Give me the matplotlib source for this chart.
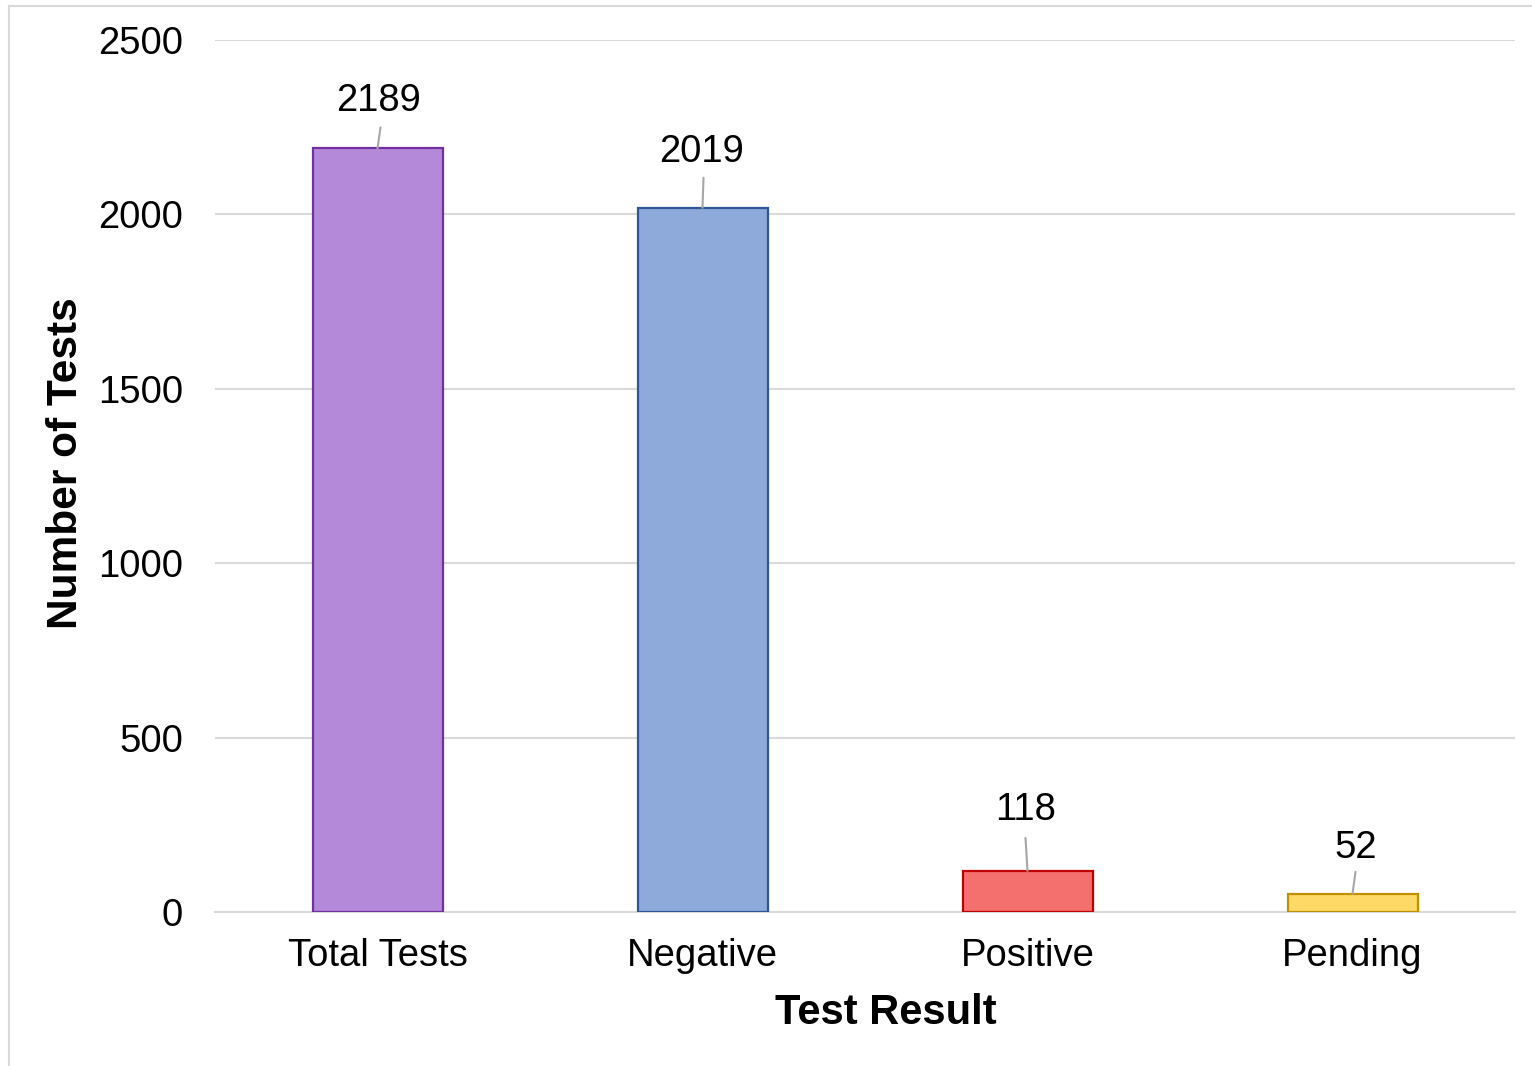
import matplotlib.pyplot as plt
from matplotlib.lines import Line2D

categories = ['Total Tests', 'Negative', 'Positive', 'Pending']
counts = [2189, 2019, 118, 52]
fill_colors = ['#b589d9', '#8eaadb', '#f4706f', '#ffd966']
edge_colors = ['#7030a0', '#2f5597', '#c00000', '#bf9000']

# label placement (pixels from bar top): text centre, leader line top
text_offsets = [(1, 47), (-1, 56), (-2, 61), (3, 46)]
leader_tops = [(3, 21), (1, 30), (-2, 33), (3, 22)]

plt.rcParams['font.family'] = ['Liberation Sans', 'DejaVu Sans']

fig = plt.figure(figsize=(15.32, 10.66), dpi=100)
ax = fig.add_axes([215 / 1532, 154 / 1066, 1300 / 1532, 872 / 1066])

x = range(len(categories))
ax.bar(x, counts, width=0.4, color=fill_colors, edgecolor=edge_colors,
       linewidth=1.6, zorder=3)

for i, v in enumerate(counts):
    ax.annotate('', xy=(i, v), xytext=leader_tops[i], textcoords='offset pixels',
                arrowprops=dict(arrowstyle='-', color='#a6a6a6', lw=1.5,
                                shrinkA=0, shrinkB=0), zorder=4)
    ax.annotate(str(v), xy=(i, v), xytext=text_offsets[i], textcoords='offset pixels',
                ha='center', va='center', fontsize=27.5, color='black')

ax.set_xlim(-0.5, 3.5)
ax.set_ylim(0, 2500)
ax.set_yticks([0, 500, 1000, 1500, 2000, 2500])
ax.set_xticks(list(x))
ax.set_xticklabels(categories)
ax.tick_params(axis='both', length=0, labelsize=27.5, colors='black')
ax.tick_params(axis='x', pad=19)
ax.tick_params(axis='y', pad=23)
ax.grid(axis='y', color='#d9d9d9', linewidth=1.5, zorder=0)
for s in ['top', 'right', 'left']:
    ax.spines[s].set_visible(False)
ax.spines['bottom'].set_color('#d9d9d9')
ax.spines['bottom'].set_linewidth(1.5)

ax.set_xlabel('Test Result', fontsize=30, fontweight='bold')
ax.xaxis.set_label_coords(0.516, -0.093)
ax.set_ylabel('Number of Tests', fontsize=30.5, fontweight='bold')
ax.yaxis.set_label_coords(-0.099, 0.515)

# chart area frame (only top and left edges visible)
fig.add_artist(Line2D([9 / 1532, 9 / 1532], [0, 1 - 6 / 1066],
                      transform=fig.transFigure, color='#d9d9d9', lw=1.5))
fig.add_artist(Line2D([9 / 1532, 1], [1 - 6 / 1066, 1 - 6 / 1066],
                      transform=fig.transFigure, color='#d9d9d9', lw=1.5))

fig.savefig('out.png', dpi=100)
